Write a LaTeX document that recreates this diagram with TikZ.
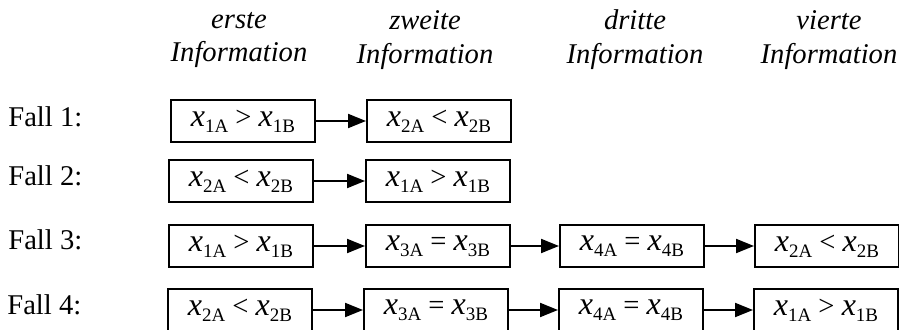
\documentclass[tikz,border=0pt]{standalone}
\usepackage{fontspec}
\setmainfont{Liberation Serif}
\usepackage{tikz}
\usetikzlibrary{arrows.meta}

\newcommand{\xvar}[1]{{\fontsize{16}{18}\selectfont\textit{x}}\raisebox{-0.45ex}{\fontsize{9.5}{10}\selectfont #1}}

\tikzset{
  infobox/.style={draw, line width=1pt, minimum width=72pt, minimum height=21pt, inner sep=0pt},
  pfeil/.style={line width=1pt, -{Triangle[length=9pt,width=7pt]}},
  kopf/.style={align=center, font=\itshape},
  fall/.style={anchor=base west, inner sep=0pt}
}

\begin{document}
\fontsize{14.3}{17}\selectfont
\begin{tikzpicture}[x=0.5pt,y=-0.5pt]
    \useasboundingbox (0,0) rectangle (899,330);
    % Kopfzeile
    \node [kopf] (k1) at (239,40) {erste\\Information};
    \node [kopf] (k2) at (425,40) {zweite\\Information};
    \node [kopf] (k3) at (635,40) {dritte\\Information};
    \node [kopf] (k4) at (829,40) {vierte\\Information};
    % Faelle
    \node [fall] (f1) at (8,127) {Fall 1:};
    \node [fall] (f2) at (8,186) {Fall 2:};
    \node [fall] (f3) at (8,250) {Fall 3:};
    \node [fall] (f4) at (7,315) {Fall 4:};
    % Fall 1
    \node [infobox] (r1a) at (243,121) {\xvar{1A} > \xvar{1B}};
    \node [infobox] (r1b) at (439,121) {\xvar{2A} < \xvar{2B}};
    \draw [pfeil] (r1a) -- (r1b);
    % Fall 2
    \node [infobox] (r2a) at (241,181) {\xvar{2A} < \xvar{2B}};
    \node [infobox] (r2b) at (438,181) {\xvar{1A} > \xvar{1B}};
    \draw [pfeil] (r2a) -- (r2b);
    % Fall 3
    \node [infobox] (r3a) at (241,246) {\xvar{1A} > \xvar{1B}};
    \node [infobox] (r3b) at (438,246) {\xvar{3A} = \xvar{3B}};
    \node [infobox] (r3c) at (632,246) {\xvar{4A} = \xvar{4B}};
    \node [infobox] (r3d) at (827,246) {\xvar{2A} < \xvar{2B}};
    \draw [pfeil] (r3a) -- (r3b);
    \draw [pfeil] (r3b) -- (r3c);
    \draw [pfeil] (r3c) -- (r3d);
    % Fall 4
    \node [infobox] (r4a) at (240,310) {\xvar{2A} < \xvar{2B}};
    \node [infobox] (r4b) at (436,310) {\xvar{3A} = \xvar{3B}};
    \node [infobox] (r4c) at (631,310) {\xvar{4A} = \xvar{4B}};
    \node [infobox] (r4d) at (826,310) {\xvar{1A} > \xvar{1B}};
    \draw [pfeil] (r4a) -- (r4b);
    \draw [pfeil] (r4b) -- (r4c);
    \draw [pfeil] (r4c) -- (r4d);
\end{tikzpicture}
\end{document}
